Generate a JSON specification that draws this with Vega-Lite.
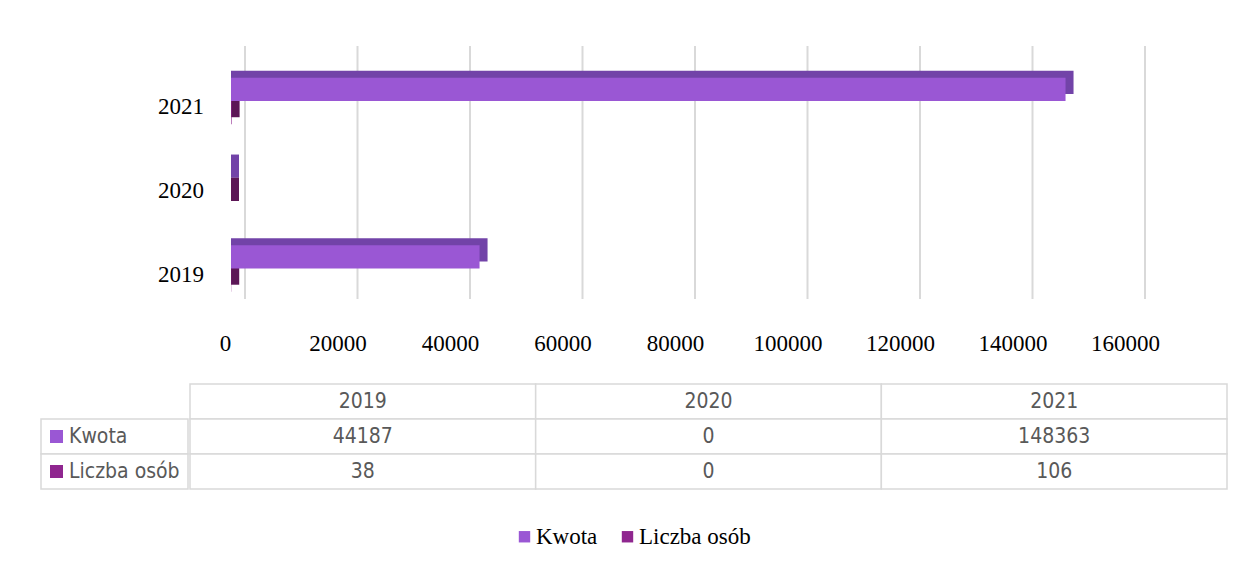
{
  "$schema": "https://vega.github.io/schema/vega-lite/v6.json",
  "background": "white",
  "padding": {"left": 40, "top": 45, "right": 14, "bottom": 0},
  "autosize": {"type": "pad"},
  "spacing": 28,
  "datasets": {
    "bary": [
      {"Rok": "2019", "Seria": "Kwota", "Wartosc": 44187},
      {"Rok": "2019", "Seria": "Liczba osób", "Wartosc": 38},
      {"Rok": "2020", "Seria": "Kwota", "Wartosc": 0},
      {"Rok": "2020", "Seria": "Liczba osób", "Wartosc": 0},
      {"Rok": "2021", "Seria": "Kwota", "Wartosc": 148363},
      {"Rok": "2021", "Seria": "Liczba osób", "Wartosc": 106}
    ],
    "siatka": [
      {"v": 0}, {"v": 20000}, {"v": 40000}, {"v": 60000}, {"v": 80000},
      {"v": 100000}, {"v": 120000}, {"v": 140000}, {"v": 160000}
    ],
    "lata": [{"Rok": "2019"}, {"Rok": "2020"}, {"Rok": "2021"}]
  },
  "config": {
    "view": {"stroke": null},
    "font": "Liberation Serif",
    "axis": {"labelFont": "Liberation Serif", "labelFontSize": 23, "labelColor": "#000000"}
  },
  "resolve": {"scale": {"x": "independent", "y": "independent", "color": "shared"}},
  "vconcat": [
    {
      "width": 1184,
      "height": 253,
      "layer": [
        {
          "data": {"name": "siatka"},
          "mark": {"type": "rule", "color": "#d9d9d9", "strokeWidth": 2, "xOffset": 14},
          "encoding": {
            "x": {
              "field": "v", "type": "quantitative",
              "scale": {"domain": [0, 160000], "range": [190, 1090], "nice": false, "zero": true},
              "axis": {
                "values": [0, 20000, 40000, 60000, 80000, 100000, 120000, 140000, 160000],
                "format": "d", "grid": false, "domain": false, "ticks": false,
                "labelPadding": 33, "labelOffset": -6, "title": null, "labelFlush": false
              }
            }
          }
        },
        {
          "data": {"name": "bary"},
          "transform": [{"filter": "datum.Seria === 'Kwota'"}],
          "mark": {"type": "bar", "color": "#7243a8", "height": {"band": 0.5}, "xOffset": 8, "x2Offset": 0.001, "yOffset": -18.6, "y2Offset": -18.6},
          "encoding": {
            "y": {
              "field": "Rok", "type": "nominal", "sort": ["2021", "2020", "2019"],
              "scale": {"paddingInner": 0.445, "paddingOuter": 0.233, "align": 0.814},
              "axis": null
            },
            "x": {"field": "Wartosc", "type": "quantitative"},
            "x2": {"datum": 0}
          }
        },
        {
          "data": {"name": "bary"},
          "transform": [{"filter": "datum.Seria === 'Liczba osób'"}],
          "mark": {"type": "bar", "color": "#5c1656", "height": {"band": 0.5}, "xOffset": 8, "x2Offset": 0.001, "yOffset": 4.6, "y2Offset": 4.6},
          "encoding": {
            "y": {"field": "Rok", "type": "nominal", "sort": ["2021", "2020", "2019"]},
            "x": {"field": "Wartosc", "type": "quantitative"},
            "x2": {"datum": 0}
          }
        },
        {
          "data": {"name": "bary"},
          "mark": {"type": "bar"},
          "encoding": {
            "y": {"field": "Rok", "type": "nominal", "sort": ["2021", "2020", "2019"]},
            "yOffset": {"field": "Seria", "type": "nominal", "sort": ["Kwota", "Liczba osób"]},
            "x": {"field": "Wartosc", "type": "quantitative"},
            "color": {
              "field": "Seria", "type": "nominal",
              "scale": {"domain": ["Kwota", "Liczba osób"], "range": ["#9a57d4", "#8f268f"]},
              "legend": {
                "orient": "none", "legendX": 472, "legendY": 479, "direction": "horizontal", "title": null,
                "symbolType": "square", "symbolSize": 130, "symbolStrokeWidth": 0,
                "labelFont": "Liberation Serif", "labelFontSize": 23, "labelColor": "#000000",
                "labelOffset": 0, "columnPadding": 18
              }
            }
          }
        },
        {
          "data": {"name": "lata"},
          "mark": {"type": "text", "align": "right", "baseline": "middle", "dx": -27, "dy": 6, "fontSize": 23, "font": "Liberation Serif", "color": "#000000"},
          "encoding": {
            "y": {"field": "Rok", "type": "nominal", "sort": ["2021", "2020", "2019"]},
            "x": {"datum": 0, "type": "quantitative"},
            "text": {"field": "Rok"}
          }
        }
      ]
    },
    {
      "spacing": 0,
      "resolve": {"scale": {"x": "independent", "y": "independent", "color": "shared"}},
      "hconcat": [
        {
          "width": 147,
          "height": 105,
          "data": {"name": "bary"},
          "transform": [{"filter": "datum.Rok === '2019'"}],
          "layer": [
            {
              "mark": {"type": "rect", "fill": "white", "stroke": "#d9d9d9", "strokeWidth": 1.5},
              "encoding": {
                "x": {"datum": "e", "type": "nominal", "scale": {"domain": ["e"], "paddingInner": 0, "paddingOuter": 0}, "axis": null},
                "y": {"field": "Seria", "type": "nominal", "scale": {"domain": ["nagłówek", "Kwota", "Liczba osób"], "paddingInner": 0, "paddingOuter": 0}, "axis": null}
              }
            },
            {
              "mark": {"type": "square", "size": 169, "opacity": 1, "filled": true, "xOffset": 15.5},
              "encoding": {
                "x": {"datum": "e", "type": "nominal", "bandPosition": 0},
                "y": {"field": "Seria", "type": "nominal"},
                "color": {"field": "Seria", "type": "nominal"}
              }
            },
            {
              "mark": {"type": "text", "align": "left", "baseline": "middle", "dx": 28, "font": "DejaVu Sans Condensed", "fontSize": 21, "color": "#595959"},
              "encoding": {
                "x": {"datum": "e", "type": "nominal", "bandPosition": 0},
                "y": {"field": "Seria", "type": "nominal"},
                "text": {"field": "Seria"}
              }
            }
          ]
        },
        {
          "width": 1037,
          "height": 105,
          "layer": [
            {
              "data": {"name": "lata"},
              "mark": {"type": "rect", "fill": "white", "stroke": "#d9d9d9", "strokeWidth": 1.5},
              "encoding": {
                "x": {"field": "Rok", "type": "nominal", "scale": {"domain": ["2019", "2020", "2021"], "paddingInner": 0, "paddingOuter": 0}, "axis": null},
                "y": {"datum": "nagłówek", "type": "nominal", "scale": {"domain": ["nagłówek", "Kwota", "Liczba osób"], "paddingInner": 0, "paddingOuter": 0}, "axis": null}
              }
            },
            {
              "data": {"name": "lata"},
              "mark": {"type": "text", "baseline": "middle", "font": "DejaVu Sans Condensed", "fontSize": 21, "color": "#595959"},
              "encoding": {
                "x": {"field": "Rok", "type": "nominal"},
                "y": {"datum": "nagłówek", "type": "nominal"},
                "text": {"field": "Rok"}
              }
            },
            {
              "data": {"name": "bary"},
              "mark": {"type": "rect", "fill": "white", "stroke": "#d9d9d9", "strokeWidth": 1.5},
              "encoding": {
                "x": {"field": "Rok", "type": "nominal"},
                "y": {"field": "Seria", "type": "nominal"}
              }
            },
            {
              "data": {"name": "bary"},
              "mark": {"type": "text", "baseline": "middle", "font": "DejaVu Sans Condensed", "fontSize": 21, "color": "#595959"},
              "encoding": {
                "x": {"field": "Rok", "type": "nominal"},
                "y": {"field": "Seria", "type": "nominal"},
                "text": {"field": "Wartosc", "type": "quantitative", "format": "d"}
              }
            }
          ]
        }
      ]
    }
  ]
}
